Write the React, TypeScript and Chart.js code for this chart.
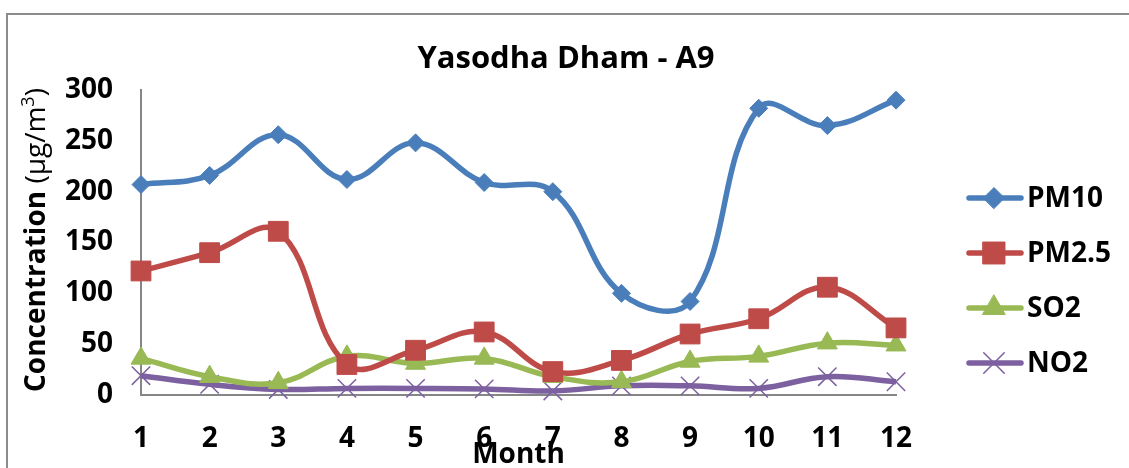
import React, { useEffect, useRef } from "react";
import { Chart, registerables } from "chart.js";
import { drawPoint } from "chart.js/helpers";

Chart.register(...registerables);

const months = ["1", "2", "3", "4", "5", "6", "7", "8", "9", "10", "11", "12"];
const pm10 = [207, 216, 256, 212, 248, 209, 200, 100, 92, 282, 265, 290];
const pm25 = [122, 140, 161, 30, 44, 62, 23, 34, 60, 75, 106, 66];
const so2 = [36, 18, 12, 38, 31, 36, 18, 13, 33, 38, 51, 49];
const no2 = [19, 10.5, 5.5, 6.5, 6.5, 6, 4, 9, 9, 6.5, 18, 13];

const seriesNames = ["PM10", "PM2.5", "SO2", "NO2"];
const seriesColors = ["#4A7EBB", "#BE4B48", "#98B954", "#7D60A0"];
const seriesStyles = ["rectRot", "rect", "triangle", "crossRot"];
const seriesRadii = [9, 14, 11.5, 13];

const chartTitle = "Yasodha Dham - A9";
const xTitle = "Month";
const yTitleBold = "Concentration";
const yTitleUnit = "(µg/m";
const yTitleSup = "3";
const yTitleEnd = ")";

const FONT = '"Open Sans", "DejaVu Sans", sans-serif';

const decorPlugin = {
  id: "decor",
  beforeDraw(chart: any) {
    const ctx = chart.ctx;
    ctx.save();
    ctx.strokeStyle = "#8c8c8c";
    ctx.lineWidth = 2;
    ctx.strokeRect(7, 14, 1300, 600);
    ctx.restore();
  },
  afterDraw(chart: any) {
    const ctx = chart.ctx;
    const area = chart.chartArea;
    ctx.save();
    ctx.fillStyle = "#000";
    // title
    ctx.font = `bold 31px ${FONT}`;
    ctx.textAlign = "center";
    ctx.textBaseline = "alphabetic";
    ctx.fillText(chartTitle, 566, 68);
    // x title
    ctx.font = `bold 28px ${FONT}`;
    ctx.fillText(xTitle, (area.left + area.right) / 2, 463);
    // y title
    ctx.save();
    ctx.translate(45, 392);
    ctx.rotate(-Math.PI / 2);
    ctx.textAlign = "left";
    let x = 0;
    ctx.font = `bold 28px ${FONT}`;
    ctx.fillText(yTitleBold, x, 0);
    x += ctx.measureText(yTitleBold + " ").width;
    ctx.font = `28px ${FONT}`;
    ctx.fillText(yTitleUnit, x, 0);
    x += ctx.measureText(yTitleUnit).width;
    ctx.font = `18px ${FONT}`;
    ctx.fillText(yTitleSup, x, -11);
    x += ctx.measureText(yTitleSup).width;
    ctx.font = `28px ${FONT}`;
    ctx.fillText(yTitleEnd, x, 0);
    ctx.restore();
    // legend
    chart.data.datasets.forEach((ds: any, i: number) => {
      const y = 198 + 55 * i;
      ctx.strokeStyle = ds.borderColor;
      ctx.lineWidth = 5.5;
      ctx.lineCap = "round";
      ctx.beginPath();
      ctx.moveTo(969, y);
      ctx.lineTo(1021, y);
      ctx.stroke();
      ctx.fillStyle = ds.borderColor;
      ctx.strokeStyle = ds.borderColor;
      ctx.lineWidth = ds.pointStyle === "crossRot" ? 1.5 : 1;
      drawPoint(ctx, { pointStyle: ds.pointStyle, radius: ds.pointRadius + 1.5, rotation: 0, borderWidth: ctx.lineWidth }, 994, y);
      ctx.fillStyle = "#000";
      ctx.font = `bold 28px ${FONT}`;
      ctx.textAlign = "left";
      ctx.textBaseline = "middle";
      ctx.fillText(ds.label, 1027, y + 1);
    });
    ctx.restore();
  },
};

export default function App() {
  const ref = useRef<HTMLCanvasElement | null>(null);
  useEffect(() => {
    if (!ref.current) return;
    const values = [pm10, pm25, so2, no2];
    const chart = new Chart(ref.current, {
      type: "line",
      data: {
        labels: months,
        datasets: values.map((v, i) => ({
          label: seriesNames[i],
          data: v,
          borderColor: seriesColors[i],
          backgroundColor: seriesColors[i],
          pointBackgroundColor: seriesColors[i],
          pointBorderColor: seriesColors[i],
          pointBorderWidth: i === 3 ? 1.5 : 1,
          pointStyle: seriesStyles[i],
          pointRadius: seriesRadii[i],
          borderWidth: 5.5,
          tension: 0.4,
          fill: false,
          clip: false,
        })),
      },
      options: {
        responsive: false,
        animation: false,
        layout: { padding: { top: 90, right: 233, bottom: 0, left: 0 } },
        plugins: { legend: { display: false }, title: { display: false }, tooltip: { enabled: false } },
        scales: {
          x: {
            offset: false,
            grid: { display: false, drawTicks: false },
            border: { display: true, color: "#868686", width: 2 },
            ticks: { color: "#000", font: { family: FONT, size: 28, weight: "bold" }, padding: 27, maxRotation: 0 },
            afterFit: (s: any) => { s.height = 73; },
          },
          y: {
            min: 0,
            max: 300,
            grid: { display: false, drawTicks: false },
            border: { display: true, color: "#868686", width: 2 },
            ticks: { stepSize: 50, color: "#000", font: { family: FONT, size: 28, weight: "bold" }, padding: 28 },
            afterFit: (s: any) => { s.width = 141; },
          },
        },
      },
      plugins: [decorPlugin],
    });
    return () => chart.destroy();
  }, []);
  return (
    <div style={{ position: "absolute", left: 0, top: 0, width: 1129, height: 468, background: "#fff" }}>
      <canvas ref={ref} width={1129} height={468} style={{ width: 1129, height: 468, display: "block" }} />
    </div>
  );
}
